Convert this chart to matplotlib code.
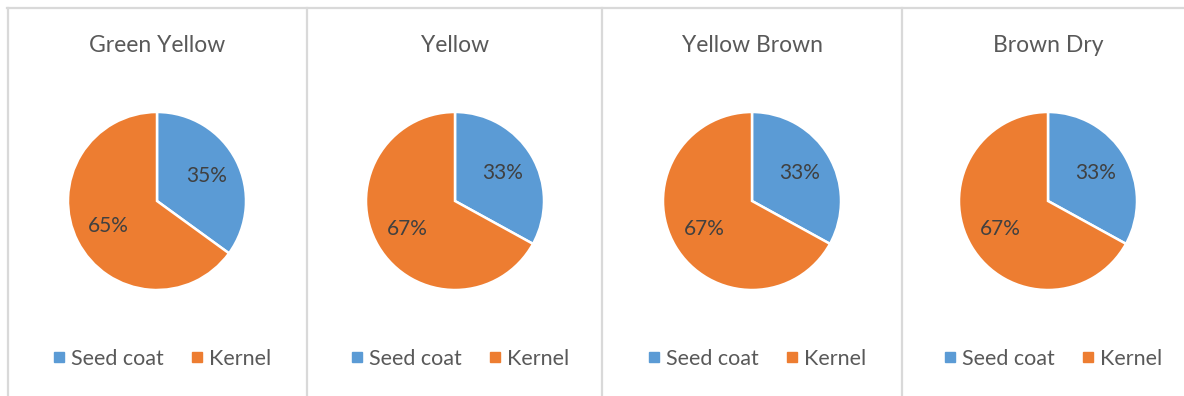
import matplotlib
matplotlib.use("Agg")
import matplotlib.pyplot as plt
from matplotlib.lines import Line2D

# Share of seed coat vs kernel at each maturity stage
stages = ["Green Yellow", "Yellow", "Yellow Brown", "Brown Dry"]
parts = ["Seed coat", "Kernel"]
seed_coat = [35, 33, 33, 33]
kernel = [65, 67, 67, 67]

colors = ["#5B9BD5", "#ED7D31"]
text_gray = "#595959"
label_gray = "#404040"
border = "#D9D9D9"

plt.rcParams["font.family"] = ["Lato", "DejaVu Sans"]

W, H = 1184, 396
fig = plt.figure(figsize=(W / 100, H / 100), dpi=100)
fig.patch.set_facecolor("white")


def fx(px):
    return px / W


def fy(py):
    return 1 - py / H


# panel frame lines
panel_edges = [8, 307, 602, 902]
fig.add_artist(Line2D([fx(7), 1], [fy(8), fy(8)], color=border, lw=1.6,
                      transform=fig.transFigure))
for x in panel_edges:
    fig.add_artist(Line2D([fx(x), fx(x)], [fy(8), 0], color=border, lw=1.6,
                          transform=fig.transFigure))

centers_x = [157, 455, 752, 1048]
center_y = 201
radius = 89

for i, stage in enumerate(stages):
    cx = centers_x[i]
    ax = fig.add_axes([fx(cx - radius), fy(center_y + radius),
                       2 * radius / W, 2 * radius / H])
    vals = [seed_coat[i], kernel[i]]
    wedges, _, autotexts = ax.pie(
        vals, colors=colors, startangle=90, counterclock=False,
        autopct=lambda p: f"{p:.0f}%", pctdistance=0.62,
        wedgeprops=dict(edgecolor="white", linewidth=1.8),
        textprops=dict(color=label_gray, fontsize=15),
    )
    ax.set_xlim(-1, 1)
    ax.set_ylim(-1, 1)
    ax.set_aspect("equal")
    ax.axis("off")

    fig.text(fx(cx), fy(45), stage, ha="center", va="center",
             fontsize=16.5, color=text_gray)

    handles = [Line2D([], [], marker="s", linestyle="none", markersize=7,
                      markerfacecolor=c, markeredgecolor=c) for c in colors]
    fig.legend(handles, parts, loc="center", ncol=2,
               bbox_to_anchor=(fx(cx + 5), fy(359)), frameon=False,
               fontsize=15.5, labelcolor=text_gray, handlelength=0.5,
               handletextpad=0.3, columnspacing=1.3, borderaxespad=0)

fig.savefig("out.png", dpi=100, facecolor="white")
